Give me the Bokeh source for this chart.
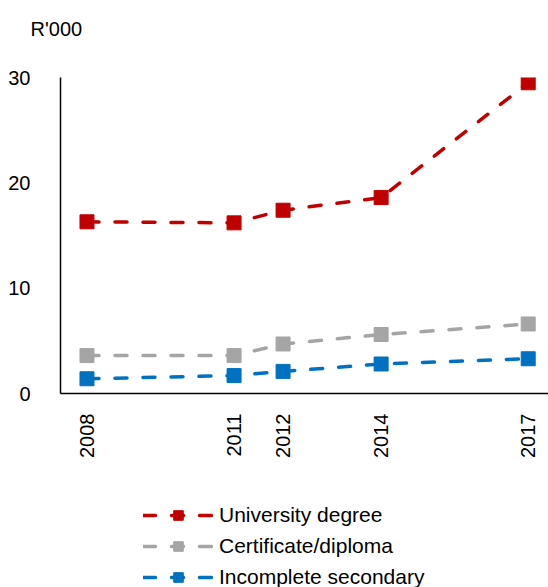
from bokeh.plotting import figure
from bokeh.layouts import column
from bokeh.models import Legend, LegendItem, FixedTicker, Range1d
from bokeh.embed import file_html
from bokeh.resources import INLINE
import math

years = [2008, 2011, 2012, 2014, 2017]
university = [16.3, 16.2, 17.4, 18.6, 29.5]
certificate = [3.6, 3.6, 4.7, 5.6, 6.6]
incomplete = [1.4, 1.7, 2.1, 2.8, 3.3]
series = [
    ("University degree", university, "#C00000"),
    ("Certificate/diploma", certificate, "#A5A5A5"),
    ("Incomplete secondary", incomplete, "#0070C0"),
]
y_ticks = [0, 10, 20, 30]
unit_label = "R'000"

FONT = "Liberation Sans"
LINE = dict(line_width=3.5, line_dash="12 16", line_cap="round")

H1 = 470
p = figure(width=548, height=H1, output_backend="svg", toolbar_location=None,
           x_range=Range1d(2007.46, 2017.414), y_range=Range1d(0, 30),
           min_border_left=60, min_border_right=0, min_border_top=77,
           min_border_bottom=H1 - 393, title=unit_label + "\n ")
p.title.text_font = FONT
p.title.text_font_size = "20px"
p.title.text_font_style = "normal"
p.title.text_color = "#000000"
p.title.align = "left"
p.title.offset = -30
p.title.vertical_align = "top"
p.title.standoff = 28
p.outline_line_color = None
p.xgrid.grid_line_color = None
p.ygrid.grid_line_color = None

for name, vals, col in series:
    p.line(years, vals, line_color=col, **LINE)
    p.scatter(years, vals, marker="square", size=14, fill_color=col, line_color=col)

for ax in (p.xaxis[0], p.yaxis[0]):
    ax.axis_line_color = "#000000"
    ax.axis_line_width = 1.5
    ax.major_tick_line_color = None
    ax.minor_tick_line_color = None
    ax.major_label_text_font = FONT
    ax.major_label_text_font_size = "20px"
    ax.major_label_text_color = "#000000"

p.yaxis[0].ticker = FixedTicker(ticks=y_ticks)
p.yaxis[0].major_label_standoff = 24
p.xaxis[0].ticker = FixedTicker(ticks=years)
p.xaxis[0].major_label_orientation = math.pi / 2
p.xaxis[0].major_label_standoff = 14

# legend panel (proxy renderers drawn outside the visible range)
H2 = 587 - H1
q = figure(width=548, height=H2, output_backend="svg", toolbar_location=None,
           x_range=Range1d(0, 1), y_range=Range1d(0, 1),
           min_border=0, x_axis_type=None, y_axis_type=None)
q.outline_line_color = None
q.xgrid.grid_line_color = None
q.ygrid.grid_line_color = None
items = []
for name, vals, col in series:
    r1 = q.line(years, vals, line_color=col, **LINE)
    r2 = q.scatter(years, vals, marker="square", size=14, fill_color=col, line_color=col)
    items.append(LegendItem(label=name, renderers=[r1, r2]))

legend = Legend(items=items, location=(83, -2), orientation="vertical",
                glyph_width=70, glyph_height=24, label_height=24, spacing=7,
                label_standoff=6, padding=0, margin=0,
                label_text_font=FONT, label_text_font_size="21px",
                label_text_color="#000000", border_line_color=None,
                background_fill_alpha=0)
q.add_layout(legend, "center")

layout = column(p, q, spacing=0)
open("out.html", "w").write(file_html(layout, INLINE))
